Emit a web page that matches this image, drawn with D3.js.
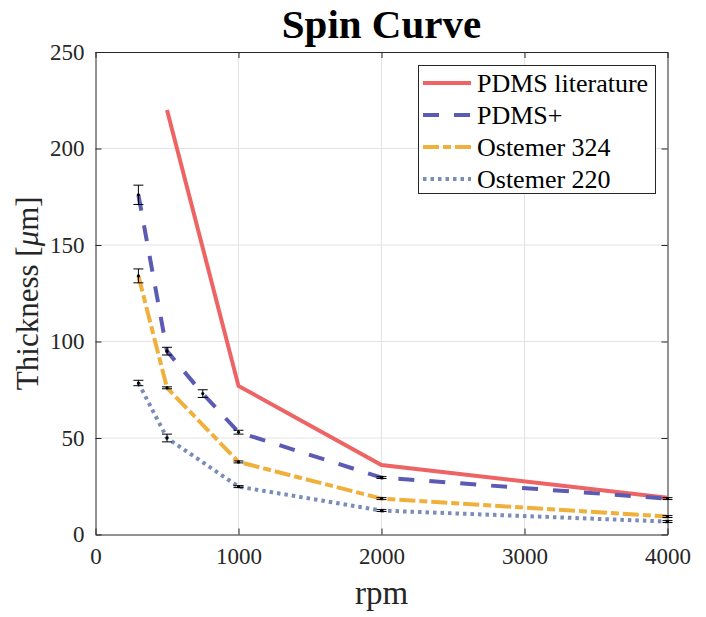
<!DOCTYPE html>
<html>
<head>
<meta charset="utf-8">
<script src="https://cdn.jsdelivr.net/npm/d3@7"></script>
<style>
  body { margin: 0; background: #fff; }
</style>
</head>
<body>
<svg id="chart" width="706" height="617"></svg>
<script>
// series data
const seriesNames = ["PDMS literature", "PDMS+", "Ostemer 324", "Ostemer 220"];
const litRpm = [500, 1000, 2000, 4000];
const litThick = [220, 77, 36, 19];
const pdmsRpm = [300, 500, 750, 1000, 2000, 4000];
const pdmsThick = [176, 95, 73, 53, 29.5, 18.6];
const pdmsErr = [5, 2, 2, 1, 0.5, 0.5];
const o324Rpm = [300, 500, 1000, 2000, 4000];
const o324Thick = [134, 76, 37.6, 18.6, 9.3];
const o324Err = [3.6, 0.5, 0.5, 0.5, 0.5];
const o220Rpm = [300, 500, 1000, 2000, 4000];
const o220Thick = [78.5, 50, 24.8, 12.4, 6.7];
const o220Err = [1.4, 2, 0.5, 0.5, 0.5];
const xTicks = [0, 1000, 2000, 3000, 4000];
const yTicks = [0, 50, 100, 150, 200, 250];

const colors = ["#ee6464", "#5b5bb3", "#f0b03c", "#7a8db8"];
const dashes = [null, "16,15", "16,4,8,4", "3.5,4"];
const serif = "Liberation Serif, Times New Roman, serif";

const svg = d3.select("#chart");
const mLeft = 95.5, mRight = 667.5, mTop = 52, mBottom = 534.5;

const x = d3.scaleLinear().domain([0, 4000]).range([mLeft, mRight]);
const y = d3.scaleLinear().domain([0, 250]).range([mBottom, mTop]);

// grid
const grid = svg.append("g");
grid.selectAll(".gx").data(xTicks.slice(1, -1)).enter().append("line")
    .attr("x1", d => x(d)).attr("x2", d => x(d))
    .attr("y1", mTop).attr("y2", mBottom)
    .attr("stroke", "#e3e3e3").attr("stroke-width", 1);
grid.selectAll(".gy").data(yTicks.slice(1, -1)).enter().append("line")
    .attr("x1", mLeft).attr("x2", mRight)
    .attr("y1", d => y(d)).attr("y2", d => y(d))
    .attr("stroke", "#e3e3e3").attr("stroke-width", 1);

// axes (ticks point inward, MATLAB style)
const axisColor = "#262626";
const xAxis = svg.append("g").attr("transform", `translate(0,${mBottom})`)
    .call(d3.axisBottom(x).tickValues(xTicks).tickFormat(d3.format("d")).tickSizeInner(-6).tickSizeOuter(0).tickPadding(13));
const yAxis = svg.append("g").attr("transform", `translate(${mLeft},0)`)
    .call(d3.axisLeft(y).tickValues(yTicks).tickSizeInner(-6).tickSizeOuter(0).tickPadding(11));
const xTop = svg.append("g").attr("transform", `translate(0,${mTop})`)
    .call(d3.axisTop(x).tickValues(xTicks).tickSizeInner(-6).tickSizeOuter(0).tickFormat(""));
const yRight = svg.append("g").attr("transform", `translate(${mRight},0)`)
    .call(d3.axisRight(y).tickValues(yTicks).tickSizeInner(-6).tickSizeOuter(0).tickFormat(""));
[xAxis, yAxis, xTop, yRight].forEach(a => {
    a.attr("font-family", serif).attr("font-size", 23);
    a.select(".domain").attr("stroke", axisColor).attr("stroke-width", 1);
    a.selectAll(".tick line").attr("stroke", axisColor);
    a.selectAll("text").attr("fill", "#262626");
});

// lines
const seriesData = [
    { rpm: litRpm, thick: litThick, err: null },
    { rpm: pdmsRpm, thick: pdmsThick, err: pdmsErr },
    { rpm: o324Rpm, thick: o324Thick, err: o324Err },
    { rpm: o220Rpm, thick: o220Thick, err: o220Err }
];
const line = d3.line().x(d => x(d[0])).y(d => y(d[1]));

seriesData.forEach((s, i) => {
    let pts = s.rpm.map((r, j) => [r, s.thick[j]]);
    svg.append("path")
        .datum(pts)
        .attr("d", line)
        .attr("fill", "none")
        .attr("stroke", colors[i])
        .attr("stroke-width", 4)
        .attr("stroke-dasharray", dashes[i]);
});

// error bars
const cap = 5;
seriesData.forEach((s, i) => {
    if (!s.err) return;
    s.rpm.forEach((r, j) => {
        let eg = svg.append("g").attr("stroke", "#000").attr("stroke-width", 1);
        let cx = x(r), hi = y(s.thick[j] + s.err[j]), lo = y(s.thick[j] - s.err[j]);
        eg.append("line").attr("x1", cx).attr("x2", cx).attr("y1", hi).attr("y2", lo);
        eg.append("line").attr("x1", cx - cap).attr("x2", cx + cap).attr("y1", hi).attr("y2", hi);
        eg.append("line").attr("x1", cx - cap).attr("x2", cx + cap).attr("y1", lo).attr("y2", lo);
        svg.append("circle").attr("cx", cx).attr("cy", y(s.thick[j])).attr("r", 1.6).attr("fill", "#000");
    });
});

// title and labels
svg.append("text")
    .attr("x", (mLeft + mRight) / 2).attr("y", 38)
    .attr("text-anchor", "middle")
    .attr("font-family", serif)
    .attr("font-size", 41).attr("font-weight", "bold")
    .text("Spin Curve");

svg.append("text")
    .attr("x", (mLeft + mRight) / 2).attr("y", 604)
    .attr("text-anchor", "middle")
    .attr("font-family", serif)
    .attr("font-size", 33).attr("fill", "#262626")
    .text("rpm");

const yl = svg.append("text")
    .attr("transform", `translate(38,${(mTop + mBottom) / 2}) rotate(-90)`)
    .attr("text-anchor", "middle")
    .attr("font-family", serif)
    .attr("font-size", 31).attr("fill", "#262626");
yl.append("tspan").text("Thickness [");
yl.append("tspan").attr("font-style", "italic").text("\u03bc");
yl.append("tspan").text("m]");

// legend
const lg = svg.append("g");
lg.append("rect")
    .attr("x", 418.5).attr("y", 65.5).attr("width", 237).attr("height", 128)
    .attr("fill", "#fff").attr("stroke", "#262626").attr("stroke-width", 1);
seriesNames.forEach((name, i) => {
    let ly = 83 + i * 32;
    lg.append("line")
        .attr("x1", 423).attr("x2", 471).attr("y1", ly).attr("y2", ly)
        .attr("stroke", colors[i]).attr("stroke-width", 4)
        .attr("stroke-dasharray", dashes[i]);
    lg.append("text")
        .attr("x", 477).attr("y", ly + 9)
        .attr("font-family", serif)
        .attr("font-size", 26).attr("fill", "#000")
        .text(name);
});
</script>
</body>
</html>
